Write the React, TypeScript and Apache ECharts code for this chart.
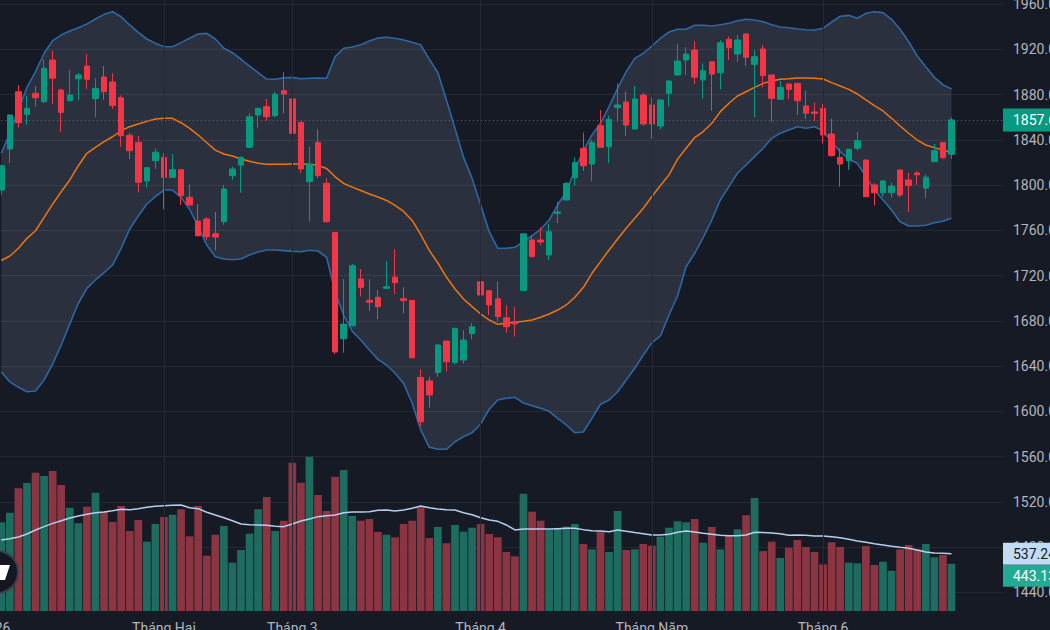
import React, { useEffect, useRef } from "react";
import * as echarts from "echarts";

const opens = [1795.6,1831.8,1882.5,1862.5,1881.1,1873.7,1910.5,1884.0,1874.6,1894.0,
1905.2,1876.3,1895.5,1891.1,1877.2,1844.0,1837.7,1803.6,1821.5,1824.5,
1806.8,1813.6,1789.2,1768.2,1770.0,1757.0,1767.6,1808.3,1817.7,1833.4,
1861.9,1869.3,1861.3,1883.4,1876.1,1855.5,1803.0,1837.7,1801.5,1758.0,
1664.1,1675.6,1716.9,1698.1,1700.8,1708.7,1718.6,1699.5,1698.0,1630.0,
1626.8,1634.1,1662.1,1643.2,1645.3,1668.6,1714.6,1706.6,1699.5,1682.7,
1679.2,1706.8,1751.4,1751.4,1738.2,1775.0,1786.8,1806.5,1832.5,1818.6,
1852.5,1833.9,1868.4,1873.4,1849.6,1879.6,1870.8,1852.2,1881.1,1897.3,
1910.5,1919.4,1892.9,1909.0,1899.3,1928.8,1915.8,1933.5,1906.7,1920.3,
1897.3,1875.8,1889.3,1889.9,1869.9,1864.6,1867.8,1845.1,1824.5,1821.5,
1832.5,1822.1,1800.1,1793.2,1793.2,1813.3,1804.5,1810.7,1797.3,1820.7,
1837.7,1827.2];

const closes = [1817.1,1861.9,1855.1,1867.8,1877.2,1903.2,1894.4,1864.3,1879.6,1897.3,
1893.5,1885.5,1882.5,1870.2,1843.6,1830.4,1802.4,1815.4,1829.0,1806.8,
1813.6,1790.6,1782.4,1755.2,1754.3,1754.0,1796.5,1814.2,1824.5,1860.4,
1867.8,1860.4,1880.2,1880.5,1845.7,1814.2,1818.4,1808.3,1767.6,1652.5,
1677.1,1728.7,1709.6,1696.4,1692.5,1710.1,1713.7,1698.0,1647.3,1590.8,
1614.4,1658.6,1643.8,1673.3,1663.0,1674.8,1702.8,1694.0,1683.7,1674.8,
1677.2,1756.9,1736.7,1749.7,1758.8,1776.2,1801.4,1819.8,1817.1,1837.7,
1833.4,1858.1,1870.8,1853.1,1876.1,1854.0,1854.0,1875.2,1891.9,1909.6,
1915.8,1895.3,1901.1,1898.1,1925.8,1921.4,1928.2,1912.9,1913.5,1896.7,
1876.7,1886.4,1884.6,1874.6,1863.4,1863.4,1844.2,1826.0,1818.6,1831.6,
1839.2,1789.7,1793.2,1803.6,1799.2,1791.2,1799.5,1809.1,1807.0,1830.4,
1824.2,1857.6];

const lows = [1791.2,1819.3,1850.7,1853.1,1869.3,1872.3,1871.4,1846.6,1873.7,1875.2,
1884.9,1859.9,1875.2,1867.2,1833.9,1822.8,1793.5,1797.7,1814.2,1778.6,
1806.0,1782.4,1781.5,1754.5,1751.4,1742.2,1764.7,1804.5,1793.2,1833.0,
1850.1,1856.9,1860.0,1863.4,1845.2,1810.7,1767.6,1806.0,1767.0,1650.6,
1651.7,1675.0,1701.6,1688.9,1681.3,1708.1,1703.4,1686.6,1647.0,1587.0,
1603.2,1630.6,1635.0,1641.2,1642.0,1663.6,1700.4,1685.1,1679.2,1669.5,
1666.0,1706.5,1736.2,1747.0,1733.7,1766.2,1786.5,1799.5,1812.4,1803.4,
1833.0,1819.3,1856.0,1843.6,1849.2,1852.5,1840.7,1849.3,1869.3,1896.4,
1897.3,1889.3,1876.1,1865.5,1884.6,1910.5,1909.0,1905.2,1859.9,1886.4,
1856.0,1875.3,1876.1,1862.0,1858.4,1856.9,1836.9,1825.2,1798.6,1813.3,
1830.4,1789.2,1781.8,1789.7,1789.1,1789.1,1776.4,1800.1,1788.2,1820.2,
1822.8,1823.0];

const highs = [1818.0,1862.5,1888.4,1879.0,1887.6,1911.2,1918.8,1885.2,1901.7,1899.3,
1915.8,1894.4,1905.2,1898.8,1879.3,1846.3,1843.3,1816.0,1832.1,1828.1,
1827.4,1814.0,1800.6,1783.0,1771.5,1776.4,1800.1,1816.2,1825.4,1863.4,
1868.3,1876.1,1882.5,1899.7,1885.5,1856.0,1833.9,1849.3,1806.0,1758.5,
1716.9,1730.2,1725.8,1716.9,1707.2,1732.9,1743.5,1709.6,1698.5,1637.1,
1630.6,1659.5,1662.5,1673.9,1671.9,1677.8,1715.2,1707.0,1714.6,1693.7,
1692.0,1757.5,1755.0,1762.6,1765.6,1785.2,1802.6,1824.5,1846.3,1840.0,
1866.3,1861.3,1889.9,1882.5,1887.8,1881.6,1877.2,1876.1,1892.9,1924.7,
1921.8,1927.3,1907.6,1909.5,1928.2,1931.1,1932.6,1934.0,1919.4,1923.8,
1897.8,1892.0,1889.8,1890.3,1883.4,1873.1,1871.6,1858.6,1832.5,1832.0,
1847.2,1822.7,1801.6,1804.5,1802.1,1813.9,1811.0,1812.4,1809.5,1836.3,
1838.2,1859.9];

const volumes = [833,923,1152,1202,1299,1268,1315,1183,970,823,
979,1111,932,836,986,751,854,651,817,883,
904,955,701,986,519,716,798,454,573,726,
955,1070,751,848,1393,1205,1449,1089,939,1261,
1324,892,848,864,742,716,692,817,848,974,
685,789,636,808,745,782,817,723,692,554,
513,1101,932,848,761,770,792,817,629,579,
748,554,939,573,579,629,613,698,782,842,
833,864,641,789,579,704,767,899,1061,563,
651,498,594,667,601,554,438,645,601,454,
448,610,432,463,378,579,620,579,629,504,
526,443.13];

const volumeMA = [667,679,695,723,761,792,823,848,873,892,
908,923,930,942,955,951,961,974,983,989,
992,995,970,961,927,901,876,848,817,810,
808,805,795,792,817,845,864,886,895,901,
923,930,930,932,945,948,939,948,964,986,
970,958,951,948,923,904,876,854,842,808,
761,770,770,770,770,773,776,776,764,754,
751,745,761,748,736,726,714,714,720,739,
751,742,729,720,711,707,707,714,739,736,
732,726,711,714,711,704,704,698,688,673,
657,645,632,620,608,598,589,573,554,545,
542,537.24];

const bbUpper = [1828.2,1845.8,1866.3,1886.4,1900.2,1916.5,1927.6,1932.6,1936.2,1939.1,
1942.4,1946.8,1950.9,1953.2,1948.8,1941.5,1935.0,1929.1,1925.3,1922.3,
1922.3,1925.9,1929.7,1933.5,1934.1,1929.1,1920.9,1917.0,1911.2,1905.2,
1899.3,1893.7,1893.5,1894.9,1895.2,1894.0,1894.4,1894.6,1894.4,1913.5,
1920.9,1922.0,1924.1,1927.3,1930.0,1930.6,1929.7,1928.2,1926.2,1923.8,
1911.2,1899.3,1875.2,1850.1,1824.5,1805.9,1782.4,1758.8,1744.1,1744.1,
1745.0,1750.0,1755.2,1760.9,1769.1,1782.4,1794.1,1813.3,1830.4,1844.3,
1854.6,1869.3,1885.5,1900.2,1912.0,1916.5,1922.9,1929.7,1935.3,1937.7,
1937.7,1941.2,1941.2,1940.6,1941.7,1943.0,1945.3,1946.5,1945.9,1944.4,
1941.7,1939.7,1939.1,1937.9,1937.3,1937.1,1938.6,1944.1,1949.2,1950.0,
1947.4,1951.8,1953.2,1952.4,1946.5,1937.7,1926.7,1914.1,1904.6,1895.2,
1888.7,1884.9];

const bbBasis = [1733.3,1737.3,1744.1,1752.9,1759.6,1771.5,1783.1,1794.1,1804.5,1817.1,
1828.1,1833.4,1838.3,1842.7,1848.0,1851.6,1853.9,1856.3,1858.4,1859.0,
1859.0,1855.1,1850.1,1844.2,1837.4,1830.9,1827.4,1825.7,1823.0,1821.0,
1819.3,1818.4,1818.4,1818.4,1818.6,1818.6,1818.4,1817.4,1814.7,1807.3,
1801.4,1798.2,1795.2,1792.1,1789.4,1786.4,1782.0,1776.7,1768.7,1756.1,
1742.2,1731.1,1718.7,1708.1,1699.3,1692.5,1686.0,1680.7,1676.9,1677.8,
1678.7,1679.6,1680.7,1683.1,1686.0,1689.5,1694.0,1700.8,1709.6,1722.0,
1732.3,1742.6,1752.3,1761.8,1770.6,1779.5,1789.9,1799.6,1809.0,1822.9,
1832.6,1842.0,1847.3,1854.6,1864.9,1872.3,1878.7,1882.5,1886.4,1889.9,
1892.0,1893.5,1894.0,1894.6,1894.6,1894.4,1893.7,1890.5,1887.6,1884.6,
1880.5,1875.2,1870.2,1865.5,1859.0,1852.2,1845.8,1839.8,1835.4,1833.1,
1830.9,1828.6];

const bbLower = [1634.8,1626.0,1621.2,1617.3,1617.9,1627.7,1641.8,1658.6,1677.2,1695.5,
1708.7,1716.1,1722.5,1729.3,1744.1,1761.1,1772.6,1783.2,1789.7,1795.6,
1795.6,1789.1,1778.6,1763.2,1747.0,1736.7,1734.6,1734.0,1734.6,1738.2,
1740.8,1742.6,1742.6,1742.0,1741.4,1741.1,1742.3,1741.7,1736.1,1705.7,
1684.9,1670.6,1663.0,1654.2,1645.9,1640.9,1633.6,1624.7,1607.1,1583.5,
1568.2,1566.4,1566.4,1573.1,1577.6,1581.1,1588.8,1601.8,1610.0,1611.5,
1612.4,1607.3,1605.0,1602.6,1600.0,1593.8,1587.9,1581.1,1581.7,1593.8,
1606.2,1610.0,1617.3,1627.7,1638.0,1649.8,1660.7,1666.6,1685.1,1701.9,
1727.8,1739.7,1753.8,1769.1,1786.8,1798.6,1810.4,1817.7,1825.1,1832.5,
1841.3,1845.8,1848.7,1851.6,1850.2,1851.6,1848.0,1838.3,1829.5,1822.8,
1819.3,1807.4,1795.6,1786.8,1778.0,1767.6,1763.8,1763.8,1764.4,1766.7,
1768.0,1770.6];

const monthTickIdx = [0, 19, 34, 56, 76, 96];
const monthTickLabels = ["'26", "Tháng Hai", "Tháng 3", "Tháng 4", "Tháng Năm", "Tháng 6"];
const monthLineIdx = [19, 34, 56, 76, 96];

const EMPTY_SLOTS = 6;
const UP = "#089981";
const DOWN = "#f23645";
const VOL_UP = "#1e6b5f";
const VOL_DOWN = "#8b3542";
const BG = "#161a25";
const GRID = "#252935";
const TXT = "#b2b5be";
const FONT = "Roboto, 'Noto Sans', sans-serif";

export default function App() {
  const ref = useRef<HTMLDivElement>(null);

  useEffect(() => {
    if (!ref.current) return;
    const chart = echarts.init(ref.current, null, { renderer: "svg" });
    const n = opens.length;
    const cats = Array.from({ length: n + EMPTY_SLOTS }, (_, i) => String(i));
    const candleData = opens.map((o, i) => [o, closes[i], lows[i], highs[i]]);
    const fillDiff = bbUpper.map((u, i) => +(u - bbLower[i]).toFixed(2));
    const volData = volumes.map((v, i) => ({
      value: v,
      itemStyle: { color: closes[i] >= opens[i] ? VOL_UP : VOL_DOWN },
    }));
    const lastClose = closes[n - 1];

    const plotLeft = -2.98;
    const plotWidth = 1010.1;

    chart.setOption({
      animation: false,
      backgroundColor: BG,
      textStyle: { fontFamily: FONT },
      grid: [
        { left: plotLeft, width: plotWidth, top: -41.2, height: 678.75, outerBoundsMode: "none", containLabel: false },
        { left: plotLeft, width: plotWidth, top: 0, height: 611, outerBoundsMode: "none", containLabel: false },
        { left: 0, width: 1003, top: -41.2, height: 678.75, outerBoundsMode: "none", containLabel: false },
      ],
      xAxis: [
        { type: "category", gridIndex: 0, data: cats, boundaryGap: true, show: false },
        {
          type: "category",
          gridIndex: 1,
          data: cats,
          boundaryGap: true,
          axisLine: { show: false },
          axisTick: { show: false },
          splitLine: { show: false },
          axisLabel: {
            interval: (idx: number) => monthTickIdx.includes(idx),
            formatter: (_v: string, idx: number) => {
              const k = monthTickIdx.indexOf(idx);
              return k >= 0 ? monthTickLabels[k] : "";
            },
            color: TXT,
            fontSize: 14,
            margin: 10,
            fontFamily: FONT,
          },
        },
        { type: "value", gridIndex: 2, min: 0, max: 1, show: false },
      ],
      yAxis: [
        { type: "value", gridIndex: 0, min: 1400, max: 2000, show: false, splitLine: { show: false } },
        { type: "value", gridIndex: 1, min: 0, max: 5737, show: false, splitLine: { show: false } },
        {
          type: "value",
          gridIndex: 2,
          position: "right",
          min: 1400,
          max: 2000,
          interval: 40,
          axisLine: { show: false },
          axisTick: { show: false },
          splitLine: { show: true, lineStyle: { color: GRID, width: 1 } },
          axisLabel: {
            color: TXT,
            fontSize: 14,
            margin: 10,
            fontFamily: FONT,
            formatter: (v: number) => v.toFixed(2),
          },
        },
      ],
      series: [
        {
          name: "monthLines",
          type: "line",
          xAxisIndex: 1,
          yAxisIndex: 1,
          data: volumes.map(() => null),
          symbol: "none",
          silent: true,
          z: 0,
          lineStyle: { opacity: 0 },
          markLine: {
            silent: true,
            symbol: ["none", "none"],
            label: { show: false },
            lineStyle: { color: GRID, type: "solid", width: 1 },
            data: monthLineIdx.map((i) => ({ xAxis: i })),
          },
        },
        {
          name: "BB lower",
          type: "line",
          xAxisIndex: 0,
          yAxisIndex: 0,
          stack: "bb",
          data: bbLower,
          symbol: "none",
          z: 1,
          lineStyle: { color: "#2e67a3", width: 1.6 },
        },
        {
          name: "BB fill",
          type: "line",
          xAxisIndex: 0,
          yAxisIndex: 0,
          stack: "bb",
          data: fillDiff,
          symbol: "none",
          z: 1,
          lineStyle: { width: 0, opacity: 0 },
          areaStyle: { color: "rgba(150,160,190,0.24)" },
        },
        {
          name: "BB upper",
          type: "line",
          xAxisIndex: 0,
          yAxisIndex: 0,
          data: bbUpper,
          symbol: "none",
          z: 2,
          lineStyle: { color: "#2e67a3", width: 1.6 },
        },
        {
          name: "BB basis",
          type: "line",
          xAxisIndex: 0,
          yAxisIndex: 0,
          data: bbBasis,
          symbol: "none",
          z: 2,
          lineStyle: { color: "#f0750f", width: 1.5 },
        },
        {
          name: "Price",
          type: "candlestick",
          xAxisIndex: 0,
          yAxisIndex: 0,
          data: candleData,
          barWidth: 6,
          z: 3,
          itemStyle: {
            color: UP,
            color0: DOWN,
            borderColor: UP,
            borderColor0: DOWN,
            borderWidth: 1,
          },
          markLine: {
            silent: true,
            symbol: ["none", "none"],
            label: { show: false },
            lineStyle: { color: UP, type: [1, 3], width: 1 },
            data: [{ yAxis: lastClose }],
          },
        },
        {
          name: "Volume",
          type: "bar",
          xAxisIndex: 1,
          yAxisIndex: 1,
          data: volData,
          barWidth: "90%",
          z: 2,
        },
        {
          name: "Volume MA",
          type: "line",
          xAxisIndex: 1,
          yAxisIndex: 1,
          data: volumeMA,
          symbol: "none",
          z: 3,
          lineStyle: { color: "#b5cfec", width: 1.5 },
        },
      ],
    });

    const yPrice = chart.convertToPixel({ yAxisIndex: 0 }, lastClose) as number;
    const yMA = chart.convertToPixel({ yAxisIndex: 1 }, volumeMA[n - 1]) as number;
    const yVolRaw = chart.convertToPixel({ yAxisIndex: 1 }, volumes[n - 1]) as number;
    const yVol = Math.max(yVolRaw, yMA + 22);

    const tag = (y: number, h: number, bg: string, fg: string, text: string) => ({
      type: "group",
      z: 100,
      children: [
        { type: "rect", z: 100, shape: { x: 1003, y: y - h / 2, width: 60, height: h }, style: { fill: bg } },
        {
          type: "text",
          z: 101,
          x: 1013,
          y,
          style: { text, fill: fg, font: `14px ${FONT}`, textVerticalAlign: "middle", verticalAlign: "middle" },
        },
      ],
    });

    chart.setOption({
      graphic: [
        tag(yPrice, 23, UP, "#ffffff", lastClose.toFixed(2)),
        tag(yMA, 22, "#c3dcf6", "#131722", volumeMA[n - 1].toFixed(2) + "M"),
        tag(yVol, 22, "#22ab94", "#ffffff", volumes[n - 1].toFixed(2) + "M"),
        {
          type: "group",
          z: 100,
          children: [
            { type: "circle", z: 100, shape: { cx: -3, cy: 572, r: 21 }, style: { fill: "#131722", stroke: "#3a3e4a", lineWidth: 2 } },
            { type: "polygon", z: 101, shape: { points: [[-2, 565], [10, 565], [5, 580], [-7, 580]] }, style: { fill: "#ffffff" } },
          ],
        },
      ],
    });

    return () => chart.dispose();
  }, []);

  return (
    <div
      ref={ref}
      style={{ position: "absolute", left: 0, top: 0, width: 1050, height: 630, background: BG }}
    />
  );
}
